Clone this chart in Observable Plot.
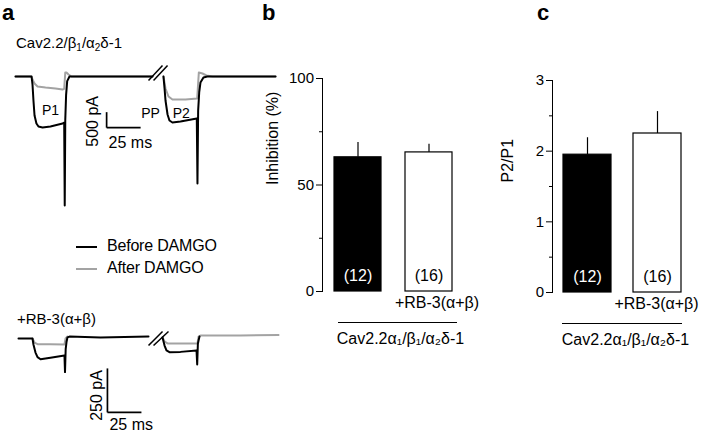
<!DOCTYPE html>
<html><head><meta charset="utf-8">
<script src="https://cdn.jsdelivr.net/npm/d3@7"></script>
<script src="https://cdn.jsdelivr.net/npm/@observablehq/plot@0.6"></script>
<style>
html,body{margin:0;padding:0;background:#fff;}
#fig{position:relative;width:708px;height:433px;overflow:hidden;font-family:"Liberation Sans",Arial,Helvetica,sans-serif;color:#000;}
#fig > *{position:absolute;}
#fig svg{overflow:visible;}
.sub{font-size:10px;vertical-align:-3px;}
</style></head><body><div id="fig"></div>
<script>
// ---------- DATA ----------
// Panel a, traces: [time (ms), current (pA)]
const topBeforeP1 = [[0,0],[11.8,0],[12.5,-258],[13.2,-774],[14.0,-1258],[15.4,-1516],[16.9,-1613],[19.9,-1645],[25.7,-1613],[34.6,-1516],[35.8,-1484],[36.2,-4160],[36.6,-1400],[37.2,-600],[38.0,-150],[39.7,0],[100.7,0]];
const topBeforeP2 = [[108.8,0],[109.6,-387],[110.3,-774],[111.8,-1226],[113.2,-1419],[115.4,-1484],[121.3,-1452],[133.3,-1355],[133.8,-3450],[134.3,-1100],[135.1,-500],[136.0,-194],[138.2,-30],[141,0],[191.2,0]];
const topAfterP1 = [[0,0],[11.8,0],[12.5,-97],[14.0,-226],[16.2,-323],[22.1,-355],[29.4,-387],[34.6,-419],[35.8,-400],[36.6,129],[37.5,129],[39.0,65],[41.2,0],[100.7,0]];
const topAfterP2 = [[108.8,0],[110.3,-387],[112.5,-645],[115.4,-742],[125,-742],[133.6,-710],[134.8,129],[137.5,97],[140.4,32],[144.9,0],[191.2,0]];
const botBeforeP1 = [[2.2,0],[12.5,0],[13.2,-34],[14.7,-80],[16.2,-106],[18.4,-118],[25.7,-110],[36.0,-97],[36.4,-191],[36.9,-60],[37.5,-20],[38.2,6],[39.7,11],[62.5,6],[97.8,11]];
const botBeforeP2 = [[108.1,6],[109.6,-40],[111.0,-68],[113.2,-78],[121.3,-76],[133.1,-68],[133.6,-148],[134.1,-30],[134.6,-11],[135.3,11]];
const botAfterP1 = [[12.5,0],[14.0,-23],[16.2,-32],[25.7,-32],[36.0,-34],[36.8,0],[38.2,11]];
const botAfterP2 = [[108.1,6],[109.6,-17],[111.8,-28],[121.3,-28],[133.8,-28],[134.6,11],[136.0,17],[165.4,17],[193.4,20]];
// break marks "//": [t1, I1, t2, I2]
const topBreaks = [[97.8,-129,108.1,355],[101.5,-129,111.8,355]];
const botBreaks = [[97.8,-40,108.1,40],[101.5,-40,112.5,40]];
// scale bars
const topScale = {t: 67, i: -1650, dt: 25, di: 500};
const botScale = {t: 67.6, i: -420, dt: 25, di: 250};
const pulseLabels = [{t: 25.7, i: -1097, s: "P1"}, {t: 99.3, i: -1194, s: "PP"}, {t: 121.9, i: -1194, s: "P2"}];

// Panels b, c
const groups = ["Cav2.2", "+RB-3(α+β)"];
const nCells = [12, 16];
const inhibMean = [63, 65.3];
const inhibSem = [7, 3.8];
const p2p1Mean = [1.95, 2.25];
const p2p1Sem = [0.24, 0.31];
const inhibTicks = [0, 50, 100];
const inhibMinor = [25, 75];
const p2p1Ticks = [0, 1, 2, 3];
const p2p1Minor = [0.5, 1.5, 2.5];
const groupLabel = "Cav2.2α₁/β₁/α₂δ-1";

// ---------- STYLE ----------
const FONT = '"Liberation Sans", Arial, Helvetica, sans-serif';
const GRAY = "#a3a3a3";
const PX_PER_MS = 1.36;
const baseStyle = {fontFamily: FONT, fontSize: "15px", color: "black", background: "transparent", overflow: "visible"};
const fig = document.getElementById("fig");

function place(el, left, top) { el.style.position = "absolute"; el.style.left = left + "px"; el.style.top = top + "px"; fig.appendChild(el); }
function html(s, left, top, css) { const d = document.createElement("div"); d.innerHTML = s; if (css) d.style.cssText = css; place(d, left, top); return d; }

const X = d => d[0], Y = d => d[1];

function traceMarks(b1, b2, a1, a2, breaks, sc, withLabels, labDx, labDy, msDy) {
  const m = [
    Plot.line(a1, {x: X, y: Y, stroke: GRAY, strokeWidth: 2}),
    Plot.line(a2, {x: X, y: Y, stroke: GRAY, strokeWidth: 2}),
    Plot.line(b1, {x: X, y: Y, stroke: "black", strokeWidth: 2}),
    Plot.line(b2, {x: X, y: Y, stroke: "black", strokeWidth: 2}),
    Plot.link(breaks, {x1: d => d[0], y1: d => d[1], x2: d => d[2], y2: d => d[3], stroke: "black", strokeWidth: 1.5}),
    Plot.link([sc], {x1: d => d.t, y1: d => d.i + d.di, x2: d => d.t, y2: d => d.i, stroke: "black", strokeWidth: 1.7}),
    Plot.link([sc], {x1: d => d.t, y1: d => d.i, x2: d => d.t + d.dt, y2: d => d.i, stroke: "black", strokeWidth: 1.7}),
    Plot.text([sc], {x: d => d.t, y: d => d.i + d.di / 2, text: d => `${d.di} pA`, rotate: -90, dx: labDx, dy: labDy, fontSize: 16}),
    Plot.text([sc], {x: d => d.t, y: d => d.i, text: d => `${d.dt} ms`, textAnchor: "start", lineAnchor: "bottom", dx: 2, dy: msDy, fontSize: 16})
  ];
  if (withLabels) m.push(Plot.text(pulseLabels, {x: "t", y: "i", text: "s", fontSize: 14}));
  return m;
}

// ---------- Panel a, top traces ----------
const topY0 = 76, topPaPerPx = 500 / 15.5;
const topPlot = Plot.plot({
  width: 290, height: 225, margin: 0,
  x: {domain: [0, 195], range: [15, 15 + 195 * PX_PER_MS], axis: null},
  y: {domain: [-4500, 500], range: [topY0 + 4500 / topPaPerPx, topY0 - 500 / topPaPerPx], axis: null},
  style: baseStyle,
  marks: traceMarks(topBeforeP1, topBeforeP2, topAfterP1, topAfterP2, topBreaks, topScale, true, -13.5, 1.5, 20)
});
place(topPlot, 0, 0);

// ---------- Panel a, bottom traces ----------
const botY0 = 38, botPaPerPx = 250 / 44;
const botPlot = Plot.plot({
  width: 290, height: 133, margin: 0,
  x: {domain: [0, 195], range: [15, 15 + 195 * PX_PER_MS], axis: null},
  y: {domain: [-440, 60], range: [botY0 + 440 / botPaPerPx, botY0 - 60 / botPaPerPx], axis: null},
  style: baseStyle,
  marks: traceMarks(botBeforeP1, botBeforeP2, botAfterP1, botAfterP2, botBreaks, botScale, false, -11, 5, 17.5)
});
place(botPlot, 0, 300);

// ---------- Bar panels ----------
function barPanel({mean, sem, yLabel, yDomain, major, minor, width, height, mL, mR, mT, mB, xRange, pad, labDx, labDy, rbDx, ulIns, cavDx}) {
  const data = groups.map((g, i) => ({g, mean: mean[i], sem: sem[i], n: nCells[i]}));
  return Plot.plot({
    width, height, marginLeft: mL, marginRight: mR, marginTop: mT, marginBottom: mB,
    x: {type: "band", domain: groups, range: xRange, paddingInner: pad, paddingOuter: 0, axis: null},
    y: {domain: yDomain, axis: null},
    color: {domain: groups, range: ["black", "white"]},
    style: baseStyle,
    marks: [
      Plot.frame({anchor: "left", stroke: "black"}),
      Plot.axisY({ticks: major, tickSize: 6, tickFormat: () => "", label: null, stroke: "black"}),
      Plot.axisY({ticks: minor, tickSize: 3, tickFormat: () => "", label: null, stroke: "black"}),
      Plot.text(major, {y: d => d, text: d => String(d), frameAnchor: "left", textAnchor: "end", dx: -8.5, fontSize: 15}),
      Plot.ruleX(data, {x: "g", y1: "mean", y2: d => d.mean + d.sem, stroke: "black", strokeWidth: 1.2}),
      Plot.barY(data, {x: "g", y: "mean", fill: "g", stroke: "black", strokeWidth: 1.2}),
      Plot.text(data, {filter: (d, i) => i === 0, x: "g", y: yDomain[0], text: d => `(${d.n})`, dy: -16, fill: "white", fontSize: 16}),
      Plot.text(data, {filter: (d, i) => i === 1, x: "g", y: yDomain[0], text: d => `(${d.n})`, dy: -16, fill: "black", fontSize: 16}),
      Plot.text([yLabel], {frameAnchor: "left", text: d => d, rotate: -90, dx: labDx, dy: labDy, fontSize: 16}),
      Plot.text(data, {filter: (d, i) => i === 1, x: "g", text: "g", frameAnchor: "bottom", dy: 16, dx: rbDx, fontSize: 16}),
      Plot.ruleY([yDomain[0]], {y: d => d, x1: () => groups[0], x2: () => groups[1], dy: 31, insetLeft: ulIns[0], insetRight: ulIns[1], stroke: "black", strokeWidth: 1}),
      Plot.text([groupLabel], {frameAnchor: "bottom", text: d => d, dy: 52, dx: cavDx, fontSize: 16})
    ]
  });
}

const plotB = barPanel({mean: inhibMean, sem: inhibSem, yLabel: "Inhibition (%)", yDomain: [0, 100], major: inhibTicks, minor: inhibMinor,
  width: 250, height: 360, mL: 72, mR: 30, mT: 78, mB: 69, xRange: [84, 203], pad: 0.336, labDx: -50, labDy: 0, rbDx: 8, ulIns: [4, -5], cavDx: 4});
place(plotB, 250, 0);

const plotC = barPanel({mean: p2p1Mean, sem: p2p1Sem, yLabel: "P2/P1", yDomain: [0, 3], major: p2p1Ticks, minor: p2p1Minor,
  width: 208, height: 360, mL: 52, mR: 20, mT: 80, mB: 68, xRange: [63, 181], pad: 0.32, labDx: -44.5, labDy: -4, rbDx: -1, ulIns: [-1, -1], cavDx: 5});
place(plotC, 500, 0);

// ---------- Texts / legend ----------
const letterCss = "font-weight:bold;font-size:22px;line-height:26px;";
html("a", 2, 0, letterCss);
html("b", 262, 0, letterCss);
html("c", 537, 0, letterCss);
html('Cav2.2/β<span class="sub">1</span>/α<span class="sub">2</span>δ-1', 16, 35.3, "font-size:15px;line-height:15px;white-space:nowrap;");
html("+RB-3(α+β)", 17, 311.3, "font-size:15px;line-height:15px;white-space:nowrap;");
html("", 76, 246, "width:21px;height:2px;background:black;");
html("", 76, 268, `width:21px;height:2px;background:${GRAY};`);
html("Before DAMGO", 107, 238.2, "font-size:16px;line-height:16px;white-space:nowrap;letter-spacing:-0.2px;");
html("After DAMGO", 107, 259.5, "font-size:16px;line-height:16px;white-space:nowrap;letter-spacing:-0.2px;");
</script></body></html>
